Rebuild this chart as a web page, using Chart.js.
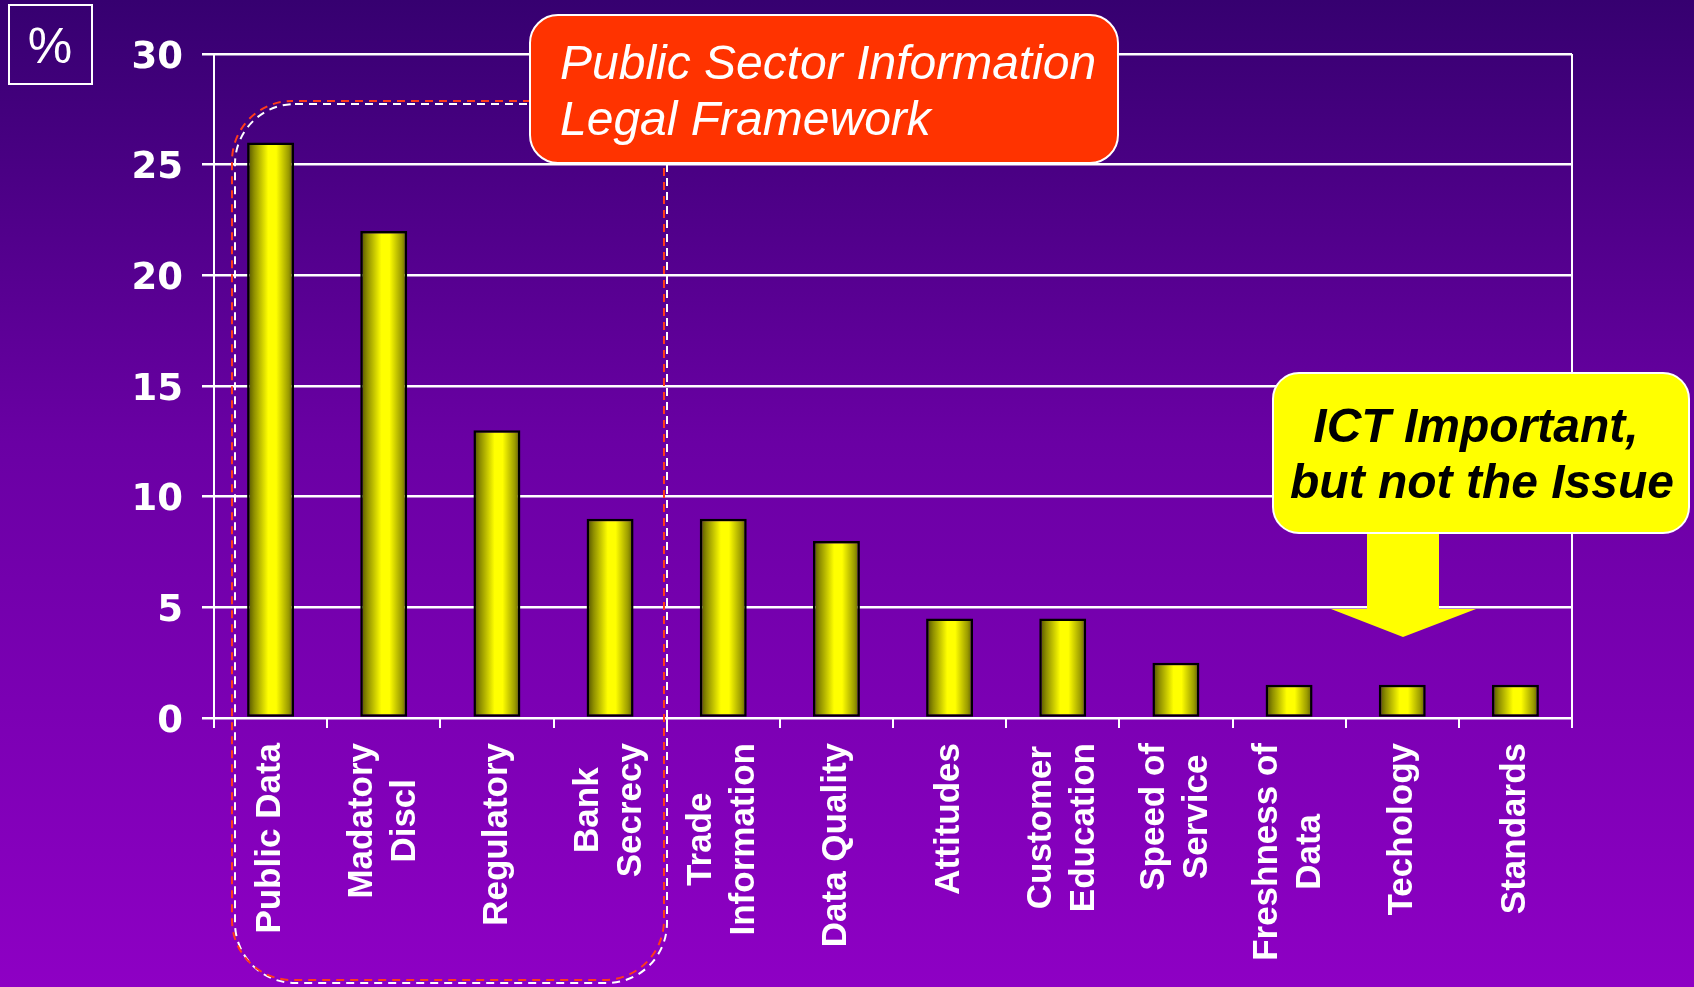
<!DOCTYPE html>
<html>
<head>
<meta charset="utf-8">
<script src="https://cdn.jsdelivr.net/npm/chart.js@4.4.0/dist/chart.umd.min.js"></script>
<style>
  html, body { margin: 0; padding: 0; overflow: hidden; }
  body {
    width: 1694px; height: 987px;
    background: linear-gradient(to bottom, #360070 0%, #6a00a4 45%, #8e00c4 100%);
  }
  #wrap { position: absolute; left: 0; top: 0; width: 1694px; height: 987px; }
</style>
</head>
<body>
<div id="wrap"><canvas id="chart" width="1694" height="987"></canvas></div>
<script>
// categories (multi-line labels as drawn under the axis)
const categories = [
  ["Public Data"],
  ["Madatory", "Discl"],
  ["Regulatory"],
  ["Bank", "Secrecy"],
  ["Trade", "Information"],
  ["Data Quality"],
  ["Attitudes"],
  ["Customer", "Education"],
  ["Speed of", "Service"],
  ["Freshness of", "Data"],
  ["Techology"],
  ["Standards"]
];
// % of respondents
const values = [26, 22, 13, 9, 9, 8, 4.5, 4.5, 2.5, 1.5, 1.5, 1.5];
const yTicks = [0, 5, 10, 15, 20, 25, 30];

const boxTitle = ["Public Sector Information", "Legal Framework"];
const calloutText = ["ICT Important,", "but not the Issue"];
const unitLabel = "%";

const BAR_PCT = 0.415;
const LABEL_FONT = 'bold 35px "Liberation Sans", Arial, sans-serif';

// horizontal "cylinder" shading for each bar, positioned from the x scale
function barFill(context) {
  const chart = context.chart;
  const xs = chart.scales.x;
  if (context.dataIndex === undefined || !xs || !xs.width) return "#ffff00";
  const cx = xs.getPixelForValue(context.dataIndex);
  const half = xs.width / categories.length * BAR_PCT / 2;
  const g = chart.ctx.createLinearGradient(cx - half, 0, cx + half, 0);
  g.addColorStop(0, "#4a4a00");
  g.addColorStop(0.15, "#8f8f00");
  g.addColorStop(0.45, "#ffff00");
  g.addColorStop(0.62, "#ffff00");
  g.addColorStop(0.88, "#9c9c00");
  g.addColorStop(1, "#585800");
  return g;
}

function roundRect(ctx, x, y, w, h, r) {
  ctx.beginPath();
  ctx.moveTo(x + r, y);
  ctx.lineTo(x + w - r, y);
  ctx.arcTo(x + w, y, x + w, y + r, r);
  ctx.lineTo(x + w, y + h - r);
  ctx.arcTo(x + w, y + h, x + w - r, y + h, r);
  ctx.lineTo(x + r, y + h);
  ctx.arcTo(x, y + h, x, y + h - r, r);
  ctx.lineTo(x, y + r);
  ctx.arcTo(x, y, x + r, y, r);
  ctx.closePath();
}

// rotated category labels, each block centred on its bar, top end at a fixed gap below the axis
const xLabelsPlugin = {
  id: "xLabels",
  afterDraw(chart) {
    const ctx = chart.ctx;
    const xs = chart.scales.x;
    const top = chart.chartArea.bottom + 25;
    const lh = 43;
    ctx.save();
    ctx.font = LABEL_FONT;
    ctx.fillStyle = "#ffffff";
    ctx.textAlign = "center";
    ctx.textBaseline = "middle";
    categories.forEach((lines, i) => {
      const x = xs.getPixelForValue(i);
      const w = Math.max(...lines.map(l => ctx.measureText(l).width));
      ctx.save();
      ctx.translate(x, top);
      ctx.rotate(-Math.PI / 2);
      lines.forEach((l, k) => {
        ctx.fillText(l, -w / 2, (k - (lines.length - 1) / 2) * lh);
      });
      ctx.restore();
    });
    ctx.restore();
  }
};

// right-hand frame line
const framePlugin = {
  id: "frame",
  beforeDatasetsDraw(chart) {
    const { ctx, chartArea } = chart;
    ctx.save();
    ctx.strokeStyle = "#ffffff";
    ctx.lineWidth = 2;
    ctx.beginPath();
    ctx.moveTo(chartArea.right, chartArea.top);
    ctx.lineTo(chartArea.right, chartArea.bottom + 10);
    ctx.stroke();
    ctx.restore();
  }
};

// slide annotations
const annotationsPlugin = {
  id: "annotations",
  afterDraw(chart) {
    const ctx = chart.ctx;
    ctx.save();

    // dashed grouping frame (red with white shadow)
    ctx.lineWidth = 2;
    ctx.setLineDash([8, 6]);
    ctx.strokeStyle = "#ffffff";
    ctx.lineDashOffset = 0;
    roundRect(ctx, 235, 104, 432, 879, 60);
    ctx.stroke();
    ctx.strokeStyle = "#ff3b1a";
    ctx.lineDashOffset = 7;
    roundRect(ctx, 232, 101, 432, 879, 60);
    ctx.stroke();
    ctx.setLineDash([]);

    // orange title box
    roundRect(ctx, 530, 15, 588, 148, 28);
    ctx.fillStyle = "#ff3300";
    ctx.fill();
    ctx.strokeStyle = "#ffffff";
    ctx.lineWidth = 2;
    ctx.stroke();
    ctx.fillStyle = "#ffffff";
    ctx.font = 'italic 48px "Liberation Sans", Arial, sans-serif';
    ctx.textAlign = "left";
    ctx.textBaseline = "alphabetic";
    ctx.fillText(boxTitle[0], 560, 79);
    ctx.fillText(boxTitle[1], 560, 135);

    // yellow callout with arrow
    ctx.beginPath();
    ctx.moveTo(1367, 530);
    ctx.lineTo(1439, 530);
    ctx.lineTo(1439, 609);
    ctx.lineTo(1476, 609);
    ctx.lineTo(1403, 637);
    ctx.lineTo(1331, 609);
    ctx.lineTo(1367, 609);
    ctx.closePath();
    ctx.fillStyle = "#ffff00";
    ctx.fill();

    roundRect(ctx, 1273, 373, 416, 160, 26);
    ctx.fillStyle = "#ffff00";
    ctx.fill();
    ctx.strokeStyle = "#ffffff";
    ctx.lineWidth = 2;
    ctx.stroke();
    ctx.fillStyle = "#000000";
    ctx.font = 'italic bold 48px "Liberation Sans", Arial, sans-serif';
    ctx.textAlign = "center";
    ctx.fillText(calloutText[0], 1476, 442);
    ctx.fillText(calloutText[1], 1482, 498);

    // unit box
    ctx.strokeStyle = "#ffffff";
    ctx.lineWidth = 2;
    ctx.strokeRect(9, 5, 83, 79);
    ctx.fillStyle = "#ffffff";
    ctx.font = '50px "Liberation Sans", Arial, sans-serif';
    ctx.textBaseline = "middle";
    ctx.fillText(unitLabel, 50, 49);

    ctx.restore();
  }
};

new Chart(document.getElementById("chart"), {
  type: "bar",
  data: {
    labels: categories,
    datasets: [{
      data: values,
      backgroundColor: barFill,
      borderColor: "#000000",
      borderWidth: 2.5,
      borderSkipped: false,
      barPercentage: BAR_PCT,
      categoryPercentage: 1
    }]
  },
  options: {
    responsive: false,
    animation: false,
    layout: { padding: { top: 54, right: 122, left: 0, bottom: 0 } },
    plugins: { legend: { display: false }, tooltip: { enabled: false } },
    scales: {
      x: {
        ticks: { display: false },
        grid: { drawOnChartArea: false, drawTicks: true, tickLength: 10, color: "#ffffff", lineWidth: 2, offset: true },
        border: { color: "#ffffff", width: 2 },
        afterFit: (s) => { s.height = 987 - 718; }
      },
      y: {
        min: 0,
        max: 30,
        afterBuildTicks: (s) => { s.ticks = yTicks.map(v => ({ value: v })); },
        ticks: {
          color: "#ffffff",
          padding: 19,
          labelOffset: 4,
          font: { family: '"DejaVu Sans", sans-serif', weight: "bold", size: 37 }
        },
        grid: { color: "#ffffff", lineWidth: 2.5, tickLength: 12 },
        border: { color: "#ffffff", width: 2 },
        afterFit: (s) => { s.width = 214; }
      }
    }
  },
  plugins: [framePlugin, xLabelsPlugin, annotationsPlugin]
});
</script>
</body>
</html>
